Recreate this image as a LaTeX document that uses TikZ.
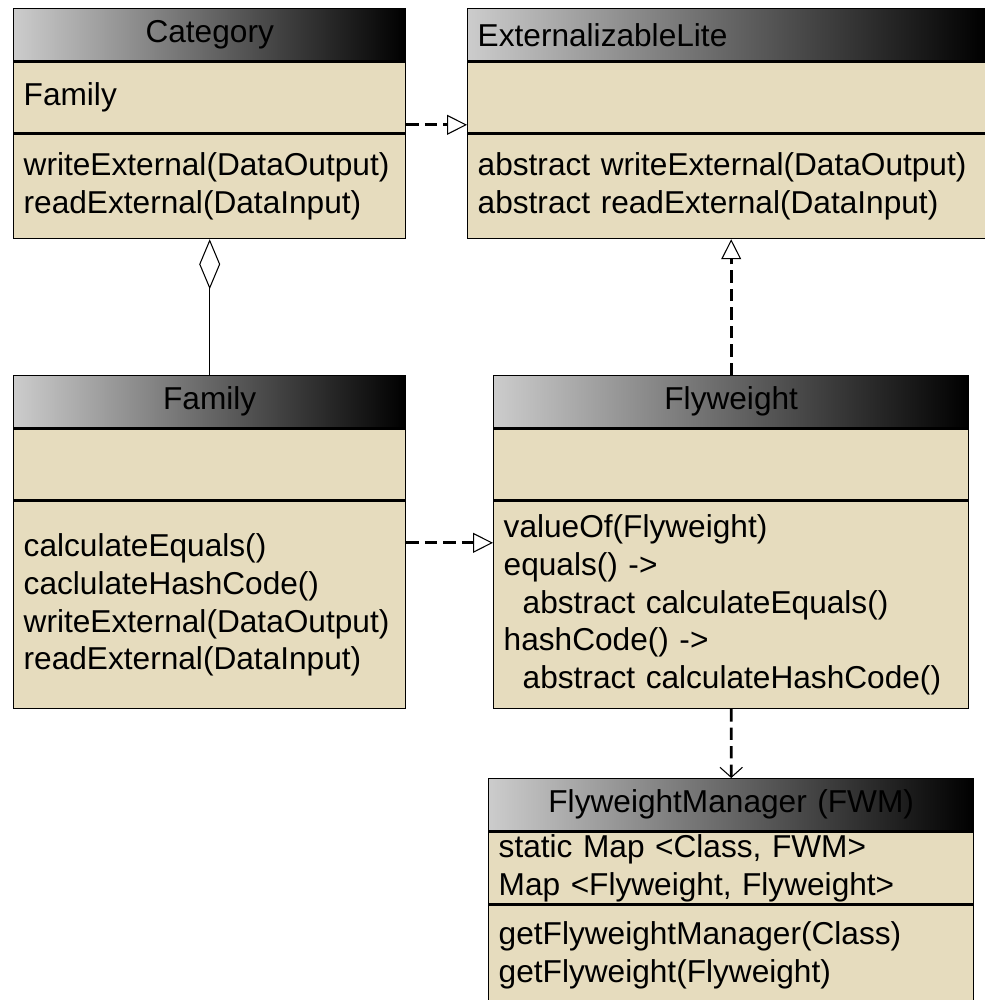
\documentclass[tikz,border=0pt]{standalone}
\usepackage{fontspec}
\setmainfont{Liberation Sans}
\usepackage{xcolor}
\usepackage{tikz}
\usetikzlibrary{positioning,calc,arrows.meta}
\definecolor{classfill}{RGB}{230,220,190}

\begin{document}
\begin{tikzpicture}[
	% header of a class, grey to black
	hdr/.style={
		draw=black, line width=0.8pt,
		left color=gray!40, right color=black,
		minimum height=1.04cm,
		inner xsep=0.2cm, inner ysep=0pt,
		text width=#1, align=center,
		anchor=north west,
		font=\fontsize{18}{21.5}\selectfont
	},
	% attribute / method part of a class
	part/.style={
		draw=black, line width=0.8pt,
		fill=classfill,
		inner xsep=0.2cm, inner ysep=0pt,
		text width=#1, align=left,
		anchor=north west,
		font=\fontsize{18}{21.5}\selectfont
	},
	realize/.style={
		line width=1.6pt, dash pattern=on 7pt off 3.5pt,
		-{Triangle[open, length=0.4cm, width=0.4cm, line width=0.6pt]}
	},
	usesdep/.style={
		line width=1.6pt, dash pattern=on 7pt off 3.5pt,
		-{Straight Barb[length=0.2cm, width=0.45cm, line width=0.6pt]}
	},
	aggr/.style={
		line width=0.6pt,
		{Diamond[open, length=1cm, width=0.42cm]}-
	}
	]
	\useasboundingbox (0,0) rectangle (19.7,-20);

	% Category
	\node[hdr=7.44cm] (cathead) at (0.26,-0.16) {Category};
	\node[part=7.44cm, minimum height=1.42cm] (catattr) at (cathead.south west) {Family};
	\node[part=7.44cm, minimum height=2.08cm] (catmeth) at (catattr.south west)
		{writeExternal(DataOutput)\\readExternal(DataInput)};

	% ExternalizableLite
	\node[hdr=9.96cm, align=left] (exthead) at (9.34,-0.16) {ExternalizableLite};
	\node[part=9.96cm, minimum height=1.42cm] (extattr) at (exthead.south west) {};
	\node[part=9.96cm, minimum height=2.08cm] (extmeth) at (extattr.south west)
		{abstract writeExternal(DataOutput)\\abstract readExternal(DataInput)};

	% Family
	\node[hdr=7.44cm] (famhead) at (0.26,-7.5) {Family};
	\node[part=7.44cm, minimum height=1.42cm] (famattr) at (famhead.south west) {};
	\node[part=7.44cm, minimum height=4.14cm] (fammeth) at (famattr.south west)
		{calculateEquals()\\caclulateHashCode()\\writeExternal(DataOutput)\\readExternal(DataInput)};

	% Flyweight
	\node[hdr=9.1cm] (fwhead) at (9.86,-7.5) {Flyweight};
	\node[part=9.1cm, minimum height=1.42cm] (fwattr) at (fwhead.south west) {};
	\node[part=9.1cm, minimum height=4.14cm] (fwmeth) at (fwattr.south west)
		{valueOf(Flyweight)\\equals() ->\\\hspace{0.38cm}abstract calculateEquals()\\hashCode() ->\\\hspace{0.38cm}abstract calculateHashCode()};

	% FlyweightManager
	\node[hdr=9.3cm] (fwmhead) at (9.76,-15.56) {FlyweightManager (FWM)};
	\node[part=9.3cm, minimum height=1.44cm] (fwmattr) at (fwmhead.south west)
		{static Map <Class, FWM>\\Map <Flyweight, Flyweight>};
	\node[part=9.3cm, minimum height=2.0cm] (fwmmeth) at (fwmattr.south west)
		{getFlyweightManager(Class)\\getFlyweight(Flyweight)};

	% connectors
	\draw[realize] ([yshift=0.18cm]catattr.south east) -- ([yshift=0.18cm]extattr.south west);
	\draw[aggr] (catmeth.south) -- (famhead.north);
	\draw[realize] (fwhead.north) -- (fwhead.north |- extmeth.south);
	\draw[realize] ([yshift=-0.84cm]fammeth.north east) -- ([yshift=-0.84cm]fwmeth.north west);
	\draw[usesdep] (fwmeth.south) -- (fwmhead.north);
\end{tikzpicture}
\end{document}
